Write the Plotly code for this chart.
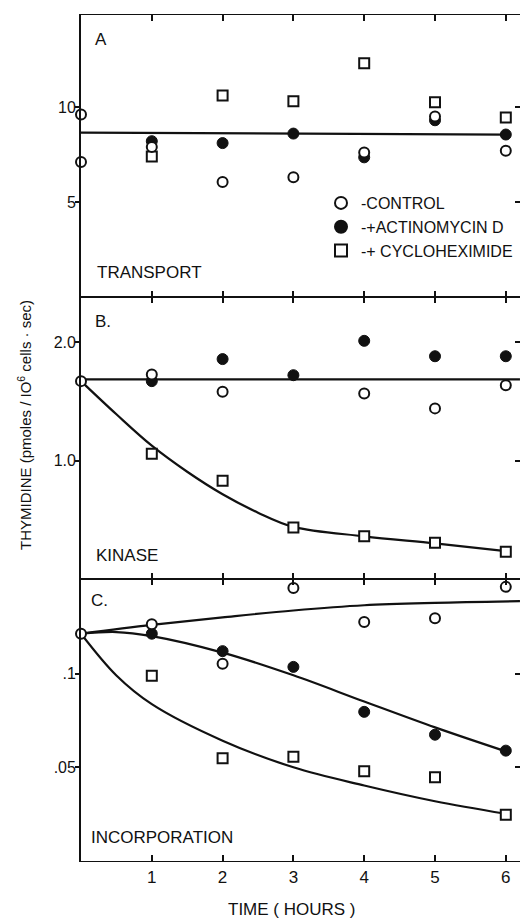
import plotly.graph_objects as go

# ---------------- data ----------------
# Panel A: transport
A_ctrl_x = [0, 0, 1, 2, 3, 4, 5, 6]
A_ctrl = [9.6, 7.1, 7.9, 6.05, 6.3, 7.6, 9.5, 7.7]
A_act_x = [1, 2, 3, 4, 5, 6]
A_act = [8.2, 8.1, 8.6, 7.35, 9.3, 8.55]
A_cyc_x = [1, 2, 3, 4, 5, 6]
A_cyc = [7.4, 10.6, 10.3, 12.3, 10.25, 9.45]
A_fit_x = [0, 6]
A_fit = [8.65, 8.55]

# Panel B: kinase
B_ctrl_x = [0, 1, 2, 4, 5, 6]
B_ctrl = [1.67, 1.726, 1.58, 1.565, 1.44, 1.636]
B_act_x = [1, 2, 3, 4, 5, 6]
B_act = [1.67, 1.856, 1.72, 2.01, 1.88, 1.88]
B_cyc_x = [1, 2, 3, 4, 5, 6]
B_cyc = [1.057, 0.83, 0.435, 0.36, 0.305, 0.23]
B_flat_x = [0, 6.2]
B_flat = [1.684, 1.684]
B_curve_x = [0, 0.5, 1, 1.5, 2, 2.5, 3, 4, 5, 6]
B_curve = [1.67, 1.39, 1.125, 0.905, 0.715, 0.56, 0.44, 0.36, 0.30, 0.235]

# Panel C: incorporation
C_ctrl_x = [0, 1, 2, 3, 4, 5, 6]
C_ctrl = [0.1213, 0.1263, 0.1053, 0.1457, 0.1275, 0.1295, 0.1463]
C_act_x = [1, 2, 3, 4, 5, 6]
C_act = [0.1213, 0.112, 0.1036, 0.0796, 0.0674, 0.0589]
C_cyc_x = [1, 2, 3, 4, 5, 6]
C_cyc = [0.0988, 0.0548, 0.0557, 0.0479, 0.0447, 0.0247]
C_ctrl_fit_x = [0, 1, 2, 3, 4, 5, 6.2]
C_ctrl_fit = [0.1213, 0.126, 0.130, 0.1337, 0.1365, 0.1378, 0.1387]
C_act_fit_x = [0, 0.5, 1, 2, 3, 4, 5, 6]
C_act_fit = [0.1213, 0.1222, 0.120, 0.1112, 0.0991, 0.0851, 0.0713, 0.0585]
C_cyc_fit_x = [0, 0.5, 1, 2, 3, 4, 5, 6]
C_cyc_fit = [0.1213, 0.099, 0.0837, 0.0642, 0.050, 0.0403, 0.0319, 0.0252]

x_ticks = [1, 2, 3, 4, 5, 6]
A_ticks = [5, 10]
A_ticktext = ["5", "10"]
B_ticks = [1.0, 2.0]
B_ticktext = ["1.0", "2.0"]
C_ticks = [0.05, 0.1]
C_ticktext = [".05", ".1"]

series_names = ["-CONTROL", "-+ACTINOMYCIN D", "-+ CYCLOHEXIMIDE"]

# ---------------- layout helpers ----------------
W, H = 523, 918
ML, MR, MT, MB = 81, 3, 15, 57
PW = W - ML - MR
PH = H - MT - MB
FONT = "Liberation Sans, Arial, sans-serif"
BLACK = "#111111"


def px(x):
    return (x - ML) / PW


def py(y):
    return (H - MB - y) / PH


fig = go.Figure()

mk_ctrl = dict(symbol="circle", size=10, color="white", line=dict(color=BLACK, width=2))
mk_act = dict(symbol="circle", size=11, color=BLACK, line=dict(color=BLACK, width=1))
mk_cyc = dict(symbol="square", size=10, color="white", line=dict(color=BLACK, width=2))
line_style = dict(color=BLACK, width=2.2)

panels = [
    ("x3", "y3", A_ctrl_x, A_ctrl, A_act_x, A_act, A_cyc_x, A_cyc,
     [(A_fit_x, A_fit, "linear")]),
    ("x2", "y2", B_ctrl_x, B_ctrl, B_act_x, B_act, B_cyc_x, B_cyc,
     [(B_flat_x, B_flat, "linear"), (B_curve_x, B_curve, "spline")]),
    ("x", "y", C_ctrl_x, C_ctrl, C_act_x, C_act, C_cyc_x, C_cyc,
     [(C_ctrl_fit_x, C_ctrl_fit, "spline"), (C_act_fit_x, C_act_fit, "spline"),
      (C_cyc_fit_x, C_cyc_fit, "spline")]),
]

for i, (xa, ya, cx, cy, ax_, ay, sx, sy, fits) in enumerate(panels):
    for fx, fy, shape in fits:
        fig.add_trace(go.Scatter(x=fx, y=fy, xaxis=xa, yaxis=ya, mode="lines",
                                 line=dict(shape=shape, smoothing=1.0, **line_style),
                                 showlegend=False, hoverinfo="skip", cliponaxis=False))
    show = i == 0
    fig.add_trace(go.Scatter(x=sx, y=sy, xaxis=xa, yaxis=ya, mode="markers",
                             marker=mk_cyc, name=series_names[2], showlegend=show,
                             legendrank=3, cliponaxis=False))
    fig.add_trace(go.Scatter(x=ax_, y=ay, xaxis=xa, yaxis=ya, mode="markers",
                             marker=mk_act, name=series_names[1], showlegend=show,
                             legendrank=2, cliponaxis=False))
    fig.add_trace(go.Scatter(x=cx, y=cy, xaxis=xa, yaxis=ya, mode="markers",
                             marker=mk_ctrl, name=series_names[0], showlegend=show,
                             legendrank=1, cliponaxis=False))

xr = [0, PW / 70.8]
common_x = dict(range=xr, showline=True, linecolor=BLACK, linewidth=1.2, mirror="ticks",
                ticks="inside", ticklen=6, tickwidth=1.5, tickcolor=BLACK,
                tickvals=x_ticks, showgrid=False, zeroline=False)
common_y = dict(showline=True, linecolor=BLACK, linewidth=1.8, ticks="",
                showgrid=False, zeroline=False,
                tickfont=dict(family=FONT, size=16, color=BLACK))
tick_only = dict(showticklabels=False, ticklen=5, tickwidth=1.5, tickcolor=BLACK,
                 showline=False, showgrid=False, zeroline=False)

fig.update_layout(
    width=W, height=H,
    margin=dict(l=ML, r=MR, t=MT, b=MB),
    paper_bgcolor="white", plot_bgcolor="white",
    font=dict(family=FONT, color=BLACK),
    xaxis=dict(anchor="y", showticklabels=True,
               tickfont=dict(family=FONT, size=17, color=BLACK), **common_x),
    xaxis2=dict(anchor="y2", showticklabels=False, matches="x", **common_x),
    xaxis3=dict(anchor="y3", showticklabels=False, matches="x", **common_x),
    yaxis=dict(domain=[0, 1 / 3], range=[0, 0.1505], tickvals=C_ticks,
               ticktext=C_ticktext, anchor="x", **common_y),
    yaxis2=dict(domain=[1 / 3, 2 / 3], range=[0, 2.38], tickvals=B_ticks,
                ticktext=B_ticktext, anchor="x2", **common_y),
    yaxis3=dict(domain=[2 / 3, 1], range=[0, 14.84], tickvals=A_ticks,
                ticktext=A_ticktext, anchor="x3", **common_y),
    # right-hand tick marks
    yaxis4=dict(overlaying="y", side="right", anchor="x", range=[0, 0.1505],
                tickvals=C_ticks, ticks="inside", **tick_only),
    yaxis5=dict(overlaying="y2", side="right", anchor="x2", range=[0, 2.38],
                tickvals=B_ticks, ticks="inside", **tick_only),
    yaxis6=dict(overlaying="y3", side="right", anchor="x3", range=[0, 14.84],
                tickvals=A_ticks, ticks="inside", **tick_only),
    # left-hand tick marks (outside)
    yaxis7=dict(overlaying="y", side="left", anchor="x", range=[0, 0.1505],
                tickvals=C_ticks, ticks="outside", **tick_only),
    yaxis8=dict(overlaying="y2", side="left", anchor="x2", range=[0, 2.38],
                tickvals=B_ticks, ticks="outside", **tick_only),
    yaxis9=dict(overlaying="y3", side="left", anchor="x3", range=[0, 14.84],
                tickvals=A_ticks, ticks="outside", **tick_only),
    showlegend=True,
    legend=dict(x=px(321), y=py(186), xanchor="left", yanchor="top",
                bgcolor="rgba(0,0,0,0)", font=dict(family=FONT, size=16, color=BLACK),
                itemsizing="constant", tracegroupgap=0, traceorder="normal"),
)

# placeholder traces so the overlay tick axes render
for ya, xa in (("y4", "x"), ("y5", "x2"), ("y6", "x3"),
               ("y7", "x"), ("y8", "x2"), ("y9", "x3")):
    fig.add_trace(go.Scatter(x=[None], y=[None], xaxis=xa, yaxis=ya, showlegend=False,
                             hoverinfo="skip"))

texts = [
    ("A", 93, 39), ("TRANSPORT", 95, 272),
    ("B.", 93, 321), ("KINASE", 94, 555),
    ("C.", 89, 600), ("INCORPORATION", 89, 837),
]
for t, x, y in texts:
    fig.add_annotation(text=t, x=px(x), y=py(y), xref="paper", yref="paper",
                       xanchor="left", yanchor="middle", showarrow=False,
                       font=dict(family=FONT, size=17, color=BLACK))

fig.add_annotation(text="TIME ( HOURS )", x=px(292), y=py(910), xref="paper", yref="paper",
                   xanchor="center", yanchor="middle", showarrow=False,
                   font=dict(family=FONT, size=17, color=BLACK))
fig.add_annotation(text="THYMIDINE (pmoles / IO<sup>6</sup> cells \u00b7 sec)",
                   x=px(24), y=py(425), xref="paper", yref="paper",
                   xanchor="center", yanchor="middle", showarrow=False, textangle=-90,
                   font=dict(family=FONT, size=15, color=BLACK))

fig.write_html("out.html")
